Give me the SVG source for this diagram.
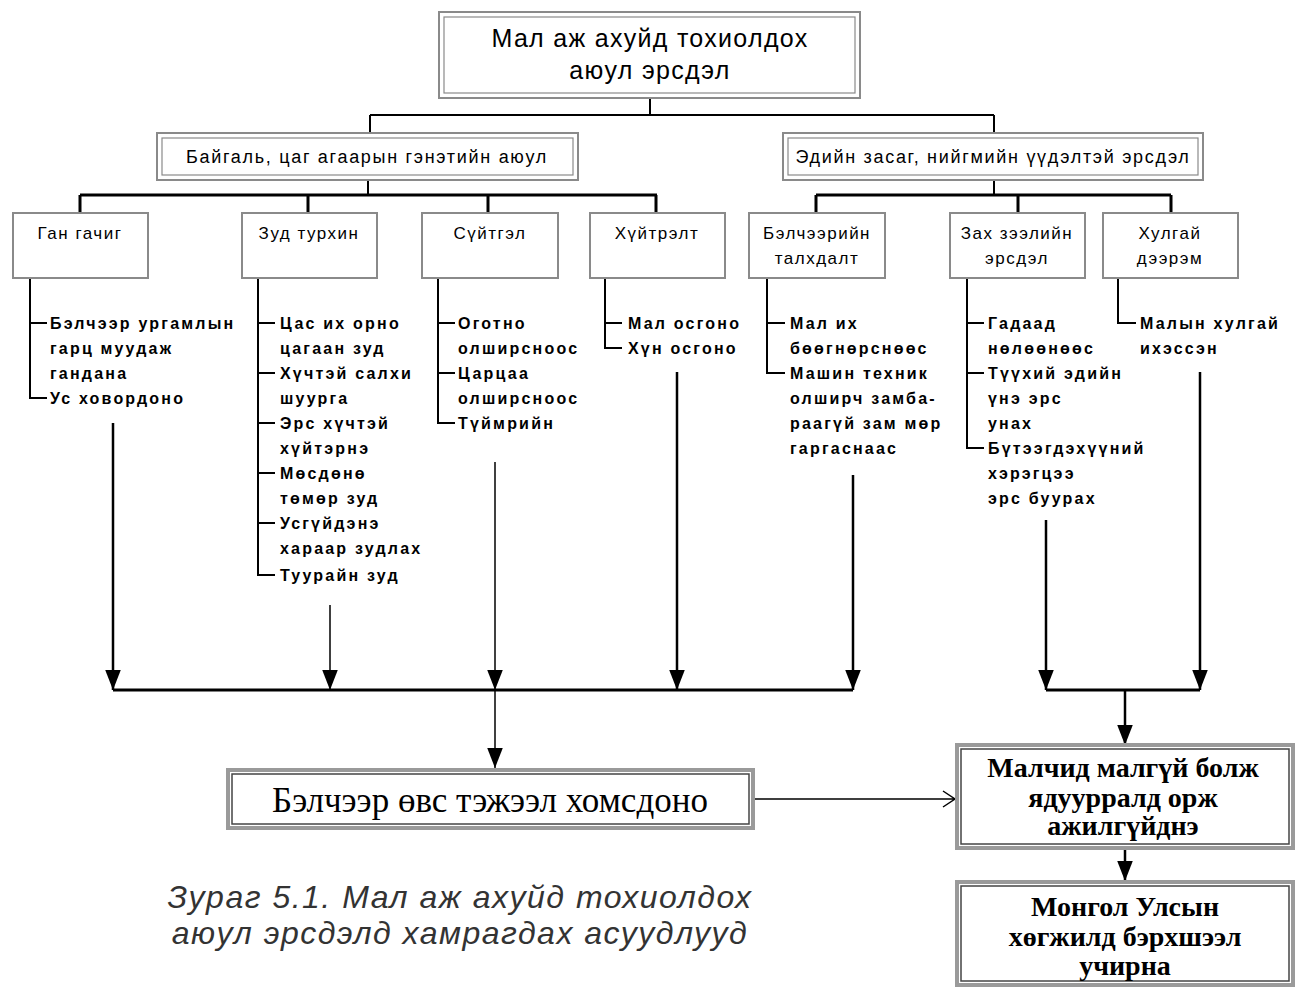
<svg xmlns="http://www.w3.org/2000/svg" width="1296" height="987" viewBox="0 0 1296 987">
<style>
.bg{fill:#fff}
.dbl-o{fill:#fff;stroke:#8a8a8a;stroke-width:2}
.dbl-i{fill:none;stroke:#8a8a8a;stroke-width:1.2}
.leaf{fill:#fff;stroke:#8a8a8a;stroke-width:2}
.bold-o{fill:#fff;stroke:#9a9a9a;stroke-width:4}
.bold-i{fill:none;stroke:#444;stroke-width:1.5}
.t-title{font-family:"Liberation Sans",Arial,sans-serif;font-size:25px;fill:#000;text-anchor:middle;dominant-baseline:central;letter-spacing:1.3px}
.t-cat{font-family:"Liberation Sans",Arial,sans-serif;font-size:18px;fill:#000;text-anchor:middle;dominant-baseline:central;letter-spacing:1.7px}
.t-leaf{font-family:"Liberation Sans",Arial,sans-serif;font-size:17px;fill:#000;text-anchor:middle;dominant-baseline:central;letter-spacing:1.5px}
.t-list{font-family:"Liberation Sans",Arial,sans-serif;font-size:16px;font-weight:bold;fill:#000;dominant-baseline:central;letter-spacing:2.2px}
.t-big{font-family:"Liberation Serif","Times New Roman",serif;font-size:35px;fill:#000;text-anchor:middle;dominant-baseline:central}
.t-bigb{font-family:"Liberation Serif","Times New Roman",serif;font-size:28px;font-weight:bold;fill:#000;text-anchor:middle;dominant-baseline:central}
.t-cap{font-family:"Liberation Sans",Arial,sans-serif;font-size:32px;font-style:italic;fill:#333;text-anchor:middle;dominant-baseline:central;letter-spacing:1.5px}
.ln{fill:none;stroke:#000;stroke-width:2.5}
.ln3{fill:none;stroke:#000;stroke-width:3}
.thin{fill:none;stroke:#000;stroke-width:1.5}
.list{fill:none;stroke:#000;stroke-width:2}
</style>
<defs>
<marker id="ah" markerUnits="userSpaceOnUse" markerWidth="16" markerHeight="20" refX="7" refY="18" orient="0" viewBox="0 0 14 18">
<path d="M0,0 L14,0 L7,18 Z" fill="#000"/>
</marker>
</defs>
<rect class="bg" x="0" y="0" width="1296" height="987"/>

<g id="connectors">
<path class="list" d="M650,98 V115 M370,115 H994 M370,115 V133 M994,115 V133"/>
<path class="list" d="M368,180 V195 M994,180 V195"/>
<path class="ln3" d="M80,195 H657 M816,195 H1171"/>
<path class="ln3" d="M80,195 V213 M308,195 V213 M488,195 V213 M656,195 V213 M816,195 V213 M1018,195 V213 M1171,195 V213"/>
<path class="list" d="M30,278 V398 H47 M30,323 H47"/>
<path class="list" d="M258,278 V575 H275 M258,323 H275 M258,373 H275 M258,423 H275 M258,473 H275 M258,523 H275"/>
<path class="list" d="M438,278 V423 H455 M438,323 H455 M438,373 H455"/>
<path class="list" d="M605,278 V348 H622 M605,323 H622"/>
<path class="list" d="M767,278 V373 H785 M767,323 H785"/>
<path class="list" d="M967,278 V448 H984 M967,323 H984 M967,373 H984"/>
<path class="list" d="M1118,278 V323 H1136"/>
<path class="ln" d="M113,423 V690" marker-end="url(#ah)"/>
<path class="thin" d="M330,605 V690" marker-end="url(#ah)"/>
<path class="thin" d="M495,462 V690" marker-end="url(#ah)"/>
<path class="ln" d="M677,372 V690" marker-end="url(#ah)"/>
<path class="ln" d="M853,475 V690" marker-end="url(#ah)"/>
<path class="ln" d="M1046,520 V690" marker-end="url(#ah)"/>
<path class="ln" d="M1200,372 V690" marker-end="url(#ah)"/>
<path class="ln3" d="M113,690 H853 M1046,690 H1200"/>
<path class="thin" d="M495,690 V768" marker-end="url(#ah)"/>
<path class="ln" d="M1125,690 V745" marker-end="url(#ah)"/>
<path class="ln" d="M1125,849 V881" marker-end="url(#ah)"/>
<path class="thin" d="M755,799 H955 M943,791 L955,799 L943,807"/>
</g>

<g id="n-root">
<rect class="dbl-o" x="439" y="12" width="421" height="86"/>
<rect class="dbl-i" x="444" y="17" width="411" height="76"/>
<text class="t-title" x="650" y="38">Мал аж ахуйд тохиолдох</text>
<text class="t-title" x="650" y="70">аюул эрсдэл</text>
</g>

<g id="n-natural">
<rect class="dbl-o" x="157" y="133" width="421" height="47"/>
<rect class="dbl-i" x="162" y="138" width="411" height="37"/>
<text class="t-cat" x="367" y="157">Байгаль, цаг агаарын гэнэтийн аюул</text>
</g>

<g id="n-social">
<rect class="dbl-o" x="783" y="133" width="420" height="47"/>
<rect class="dbl-i" x="788" y="138" width="410" height="37"/>
<text class="t-cat" x="993" y="157">Эдийн засаг, нийгмийн үүдэлтэй эрсдэл</text>
</g>

<g id="n-gan">
<rect class="leaf" x="13" y="213" width="135" height="65"/>
<text class="t-leaf" x="80" y="233">Ган гачиг</text>
<text class="t-list" x="50" y="323">Бэлчээр ургамлын</text>
<text class="t-list" x="50" y="348">гарц муудаж</text>
<text class="t-list" x="50" y="373">гандана</text>
<text class="t-list" x="50" y="398">Ус ховордоно</text>
</g>

<g id="n-zud">
<rect class="leaf" x="242" y="213" width="135" height="65"/>
<text class="t-leaf" x="309" y="233">Зуд турхин</text>
<text class="t-list" x="280" y="323">Цас их орно</text>
<text class="t-list" x="280" y="348">цагаан зуд</text>
<text class="t-list" x="280" y="373">Хүчтэй салхи</text>
<text class="t-list" x="280" y="398">шуурга</text>
<text class="t-list" x="280" y="423">Эрс хүчтэй</text>
<text class="t-list" x="280" y="448">хүйтэрнэ</text>
<text class="t-list" x="280" y="473">Мөсдөнө</text>
<text class="t-list" x="280" y="498">төмөр зуд</text>
<text class="t-list" x="280" y="523">Усгүйдэнэ</text>
<text class="t-list" x="280" y="548">хараар зудлах</text>
<text class="t-list" x="280" y="575">Туурайн зуд</text>
</g>

<g id="n-suitgel">
<rect class="leaf" x="422" y="213" width="136" height="65"/>
<text class="t-leaf" x="490" y="233">Сүйтгэл</text>
<text class="t-list" x="458" y="323">Оготно</text>
<text class="t-list" x="458" y="348">олширсноос</text>
<text class="t-list" x="458" y="373">Царцаа</text>
<text class="t-list" x="458" y="398">олширсноос</text>
<text class="t-list" x="458" y="423">Түймрийн</text>
</g>

<g id="n-huitrelt">
<rect class="leaf" x="590" y="213" width="135" height="65"/>
<text class="t-leaf" x="657" y="233">Хүйтрэлт</text>
<text class="t-list" x="628" y="323">Мал осгоно</text>
<text class="t-list" x="628" y="348">Хүн осгоно</text>
</g>

<g id="n-belcheer">
<rect class="leaf" x="749" y="213" width="136" height="65"/>
<text class="t-leaf" x="817" y="233">Бэлчээрийн</text>
<text class="t-leaf" x="817" y="258">талхдалт</text>
<text class="t-list" x="790" y="323">Мал их</text>
<text class="t-list" x="790" y="348">бөөгнөрснөөс</text>
<text class="t-list" x="790" y="373">Машин техник</text>
<text class="t-list" x="790" y="398">олширч замба-</text>
<text class="t-list" x="790" y="423">раагүй зам мөр</text>
<text class="t-list" x="790" y="448">гаргаснаас</text>
</g>

<g id="n-zah">
<rect class="leaf" x="950" y="213" width="135" height="65"/>
<text class="t-leaf" x="1017" y="233">Зах зээлийн</text>
<text class="t-leaf" x="1017" y="258">эрсдэл</text>
<text class="t-list" x="988" y="323">Гадаад</text>
<text class="t-list" x="988" y="348">нөлөөнөөс</text>
<text class="t-list" x="988" y="373">Түүхий эдийн</text>
<text class="t-list" x="988" y="398">үнэ эрс</text>
<text class="t-list" x="988" y="423">унах</text>
<text class="t-list" x="988" y="448">Бүтээгдэхүүний</text>
<text class="t-list" x="988" y="473">хэрэгцээ</text>
<text class="t-list" x="988" y="498">эрс буурах</text>
</g>

<g id="n-hulgai">
<rect class="leaf" x="1103" y="213" width="135" height="65"/>
<text class="t-leaf" x="1170" y="233">Хулгай</text>
<text class="t-leaf" x="1170" y="258">дээрэм</text>
<text class="t-list" x="1140" y="323">Малын хулгай</text>
<text class="t-list" x="1140" y="348">ихэссэн</text>
</g>

<g id="n-shortage">
<rect class="bold-o" x="228" y="770" width="525" height="58"/>
<rect class="bold-i" x="232" y="774" width="517" height="50"/>
<text class="t-big" x="490" y="800">Бэлчээр өвс тэжээл хомсдоно</text>
</g>

<g id="n-herders">
<rect class="bold-o" x="957" y="745" width="336" height="103"/>
<rect class="bold-i" x="961" y="749" width="328" height="95"/>
<text class="t-bigb" x="1123" y="767">Малчид малгүй болж</text>
<text class="t-bigb" x="1123" y="797">ядуурралд орж</text>
<text class="t-bigb" x="1123" y="825">ажилгүйднэ</text>
</g>

<g id="n-mongolia">
<rect class="bold-o" x="957" y="882" width="336" height="103"/>
<rect class="bold-i" x="961" y="886" width="328" height="95"/>
<text class="t-bigb" x="1125" y="906">Монгол Улсын</text>
<text class="t-bigb" x="1125" y="936">хөгжилд бэрхшээл</text>
<text class="t-bigb" x="1125" y="965">учирна</text>
</g>

<g id="caption">
<text class="t-cap" x="460" y="897">Зураг 5.1. Мал аж ахуйд тохиолдох</text>
<text class="t-cap" x="460" y="933">аюул эрсдэлд хамрагдах асуудлууд</text>
</g>
</svg>
